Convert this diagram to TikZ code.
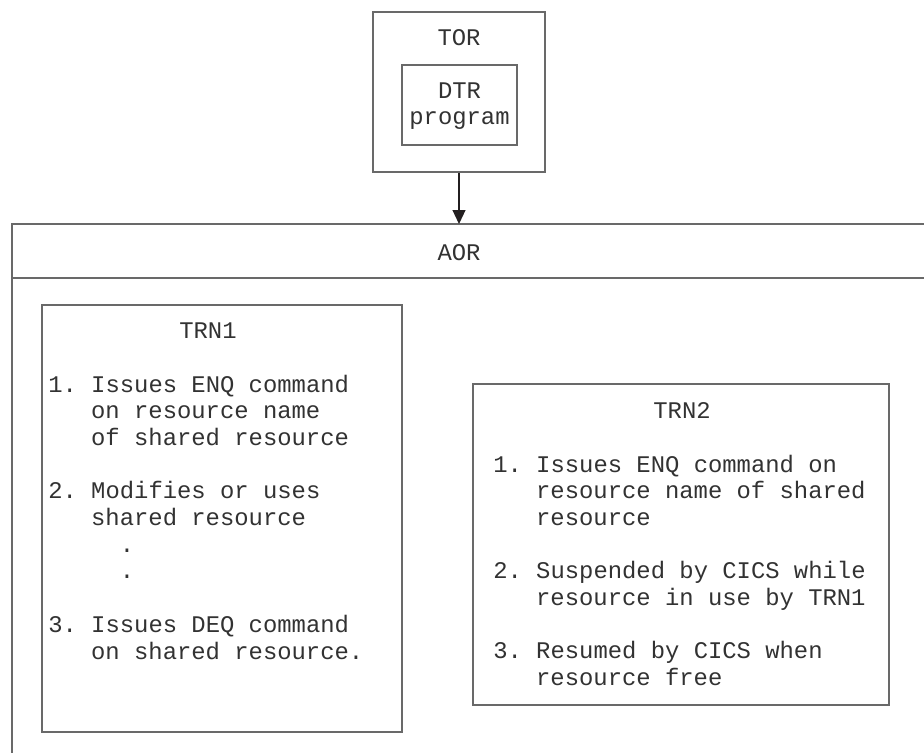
\documentclass[tikz,border=0pt]{standalone}
\usepackage{fontspec}
\usetikzlibrary{arrows.meta}
\newfontfamily\diagfont{Liberation Mono}
\frenchspacing
\definecolor{linegray}{RGB}{105,105,105}
\definecolor{textgray}{RGB}{50,50,50}
\definecolor{arrowblack}{RGB}{35,31,32}
\tikzset{
  box/.style={draw=linegray, line width=0.9pt, rectangle, inner sep=0pt},
  txt/.style={inner sep=0pt, text=textgray, font=\diagfont\fontsize{17.9}{20}\selectfont\frenchspacing},
  lft/.style={txt, anchor=base west},
  ctr/.style={txt, anchor=base},
  frame/.style={draw=linegray, line width=0.9pt},
  arr/.style={draw=arrowblack, line width=0.9pt, -{Triangle[length=10.5pt, width=9.75pt]}}
}
\begin{document}
\begin{tikzpicture}[x=0.75pt, y=-0.75pt]
\useasboundingbox (0,0) rectangle (924,753);
% TOR region
\node[box, minimum width=129pt, minimum height=120pt] (tor) at (459,92) {};
\node[box, minimum width=86.25pt, minimum height=60pt] (dtr) at (459.5,105) {};
\node[ctr] (torlbl) at (459,45) {TOR};
\node[ctr] (dtrlbl) at (459.5,98) {DTR};
\node[ctr] (proglbl) at (459.5,124) {program};
% AOR region
\coordinate (aortop) at (459,224);
\coordinate (aorright) at (924,224);
\coordinate (aorleft) at (12,224);
\coordinate (aorbottom) at (12,753);
\coordinate (hdrleft) at (12,278);
\coordinate (hdrright) at (924,278);
\draw[frame] (aorright) -- (aorleft) -- (aorbottom);
\draw[frame] (hdrleft) -- (hdrright);
\node[ctr] (aorlbl) at (459,260) {AOR};
\draw[arr] (tor.south) -- (aortop);
% TRN1
\node[box, minimum width=270pt, minimum height=320.25pt] (trn1) at (222,518.5) {};
\node[ctr] (t1title) at (208,338) {TRN1};
\node[lft] (t1a) at (48,392) {1. Issues ENQ command};
\node[lft] (t1b) at (90.9,418.7) {on resource name};
\node[lft] (t1c) at (90.9,445.4) {of shared resource};
\node[lft] (t1d) at (48,498.8) {2. Modifies or uses};
\node[lft] (t1e) at (90.9,525.5) {shared resource};
\node[lft] (t1f) at (119.5,552.2) {.};
\node[lft] (t1g) at (119.5,578.9) {.};
\node[lft] (t1h) at (48,632.3) {3. Issues DEQ command};
\node[lft] (t1i) at (90.9,659) {on shared resource.};
% TRN2
\node[box, minimum width=312pt, minimum height=240.75pt] (trn2) at (681,544.5) {};
\node[ctr] (t2title) at (682,418) {TRN2};
\node[lft] (t2a) at (493,472) {1. Issues ENQ command on};
\node[lft] (t2b) at (535.9,498.7) {resource name of shared};
\node[lft] (t2c) at (535.9,525.4) {resource};
\node[lft] (t2d) at (493,578.8) {2. Suspended by CICS while};
\node[lft] (t2e) at (535.9,605.5) {resource in use by TRN1};
\node[lft] (t2f) at (493,658.9) {3. Resumed by CICS when};
\node[lft] (t2g) at (535.9,685.6) {resource free};
\end{tikzpicture}
\end{document}
